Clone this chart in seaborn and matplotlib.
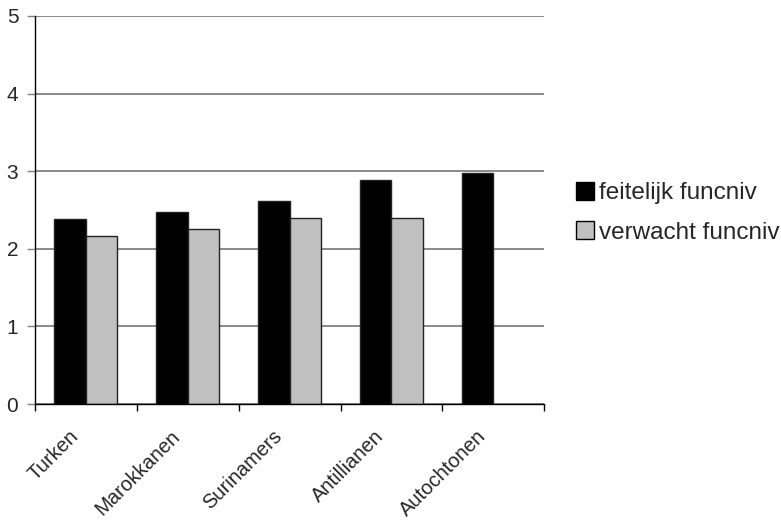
import matplotlib
matplotlib.use("Agg")
import matplotlib.pyplot as plt
from matplotlib.patches import Patch
from matplotlib.transforms import ScaledTranslation
import numpy as np
import pandas as pd
import seaborn as sns

groups = ["Turken", "Marokkanen", "Surinamers", "Antillianen", "Autochtonen"]
feitelijk = [2.38, 2.48, 2.61, 2.89, 2.98]
verwacht = [2.17, 2.26, 2.40, 2.40, np.nan]
series = ["feitelijk funcniv", "verwacht funcniv"]
colors = {"feitelijk funcniv": "#000000", "verwacht funcniv": "#C0C0C0"}
yticks = [0, 1, 2, 3, 4, 5]

df = pd.DataFrame({
    "groep": groups * 2,
    "waarde": feitelijk + verwacht,
    "reeks": [series[0]] * len(groups) + [series[1]] * len(groups),
})

sns.set_style("white")
plt.rcParams["font.family"] = ["Liberation Sans", "DejaVu Sans"]

fig = plt.figure(figsize=(7.81, 5.23), dpi=100)
ax = fig.add_axes([0.0448, 0.2275, 0.652, 0.742])

sns.barplot(data=df, x="groep", y="waarde", hue="reeks", order=groups,
            hue_order=series, palette=colors, width=0.62, gap=0,
            edgecolor="#222222", linewidth=1.0, errorbar=None, ax=ax,
            legend=False)

ax.set_ylim(0, 5)
ax.set_xlim(-0.5, len(groups) - 0.5)
ax.set_yticks(yticks)
ax.yaxis.grid(True, color="#808080", linewidth=1.3)
ax.set_axisbelow(True)
ax.set_xlabel("")
ax.set_ylabel("")

for side in ["top", "right"]:
    ax.spines[side].set_visible(False)
for side in ["left", "bottom"]:
    ax.spines[side].set_color("black")
    ax.spines[side].set_linewidth(1.0)

ax.tick_params(axis="y", which="major", length=6, width=1.0, color="#808080",
               labelsize=15, pad=6, left=True)
ax.set_yticklabels([str(v) for v in yticks])

# category labels on major ticks, tick marks at the group boundaries
ax.set_xticks(range(len(groups)))
ax.set_xticklabels(groups, rotation=45, ha="right", rotation_mode="anchor",
                   fontsize=14.5)
ax.tick_params(axis="x", which="major", length=0, pad=12)
ax.set_xticks(np.arange(-0.5, len(groups), 1.0), minor=True)
ax.tick_params(axis="x", which="minor", length=5, width=1.0, color="black",
               bottom=True)
shift = ScaledTranslation(-0.17, -0.06, fig.dpi_scale_trans)
for lbl in ax.get_xticklabels():
    lbl.set_transform(lbl.get_transform() + shift)

handles = [Patch(facecolor=colors[s], edgecolor="black", linewidth=1.0, label=s)
           for s in series]
fig.legend(handles=handles, loc="center left", bbox_to_anchor=(0.725, 0.593),
           frameon=False, fontsize=17.5, handlelength=0.75, handleheight=0.75,
           handletextpad=0.2, labelspacing=0.7, borderaxespad=0)

fig.savefig("out.png", dpi=100)
